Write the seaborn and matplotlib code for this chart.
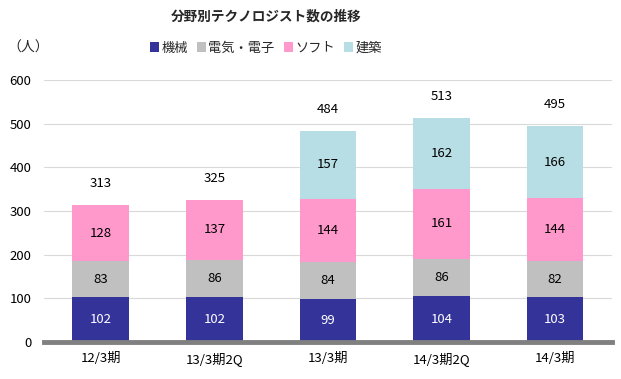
import numpy as np
import pandas as pd
import matplotlib
matplotlib.use("Agg")
import matplotlib.pyplot as plt
import seaborn as sns
from matplotlib.patches import Patch

# --------------------------
# DATA
# --------------------------
periods = ["12/3期", "13/3期2Q", "13/3期", "14/3期2Q", "14/3期"]
fields = ["機械", "電気・電子", "ソフト", "建築"]
kikai = [102, 102, 99, 104, 103]
denki = [83, 86, 84, 86, 82]
soft = [128, 137, 144, 161, 144]
kenchiku = [0, 0, 157, 162, 166]
totals = [313, 325, 484, 513, 495]

colors = ["#333399", "#C0C0C0", "#FF99CC", "#B7DEE4"]
label_colors = ["white", "black", "black", "black"]

sns.set_style("white")
plt.rcParams["font.family"] = ["Noto Sans CJK JP", "DejaVu Sans"]

fig = plt.figure(figsize=(6.21, 3.79), dpi=100)
ax = fig.add_axes([0.071, 0.098, 0.914, 0.691])

series = [kikai, denki, soft, kenchiku]
bottom = np.zeros(len(periods))
for vals, col, lc in zip(series, colors, label_colors):
    vals = np.array(vals, dtype=float)
    sns.barplot(x=periods, y=vals, bottom=bottom, color=col, width=0.5,
                saturation=1, linewidth=0, ax=ax, zorder=3)
    for i, v in enumerate(vals):
        if v > 0:
            ax.text(i, bottom[i] + v / 2, f"{int(v)}", ha="center", va="center",
                    fontsize=9.5, color=lc, zorder=4)
    bottom += vals

for i, t in enumerate(totals):
    ax.text(i, t + 34, f"{t}", ha="center", va="bottom", fontsize=9.5, color="black")

ax.set_ylim(0, 600)
ax.set_xlim(-0.5, 4.5)
ax.set_yticks(range(0, 601, 100))
ax.yaxis.grid(True, color="#D9D9D9", linewidth=0.8, zorder=0)
ax.set_axisbelow(True)
for s in ["top", "right", "left"]:
    ax.spines[s].set_visible(False)
ax.spines["bottom"].set_color("#808080")
ax.spines["bottom"].set_linewidth(3.5)
ax.spines["bottom"].set_zorder(5)
ax.tick_params(axis="both", length=0, labelsize=9.5, colors="black")
ax.tick_params(axis="x", pad=7)
ax.tick_params(axis="y", pad=9)
ax.set_xlabel("")
ax.set_ylabel("")

fig.text(0.428, 0.955, "分野別テクノロジスト数の推移", ha="center", va="center",
         fontsize=9.8, fontweight="bold")
fig.text(0.012, 0.873, "（人）", ha="left", va="center", fontsize=10)

handles = [Patch(facecolor=c, edgecolor="none") for c in colors]
fig.legend(handles, fields, loc="center", bbox_to_anchor=(0.428, 0.873), ncol=4,
           frameon=False, fontsize=9.5, handlelength=0.7, handleheight=0.7,
           handletextpad=0.15, columnspacing=0.7, borderpad=0)

fig.savefig("out.png", dpi=100)
